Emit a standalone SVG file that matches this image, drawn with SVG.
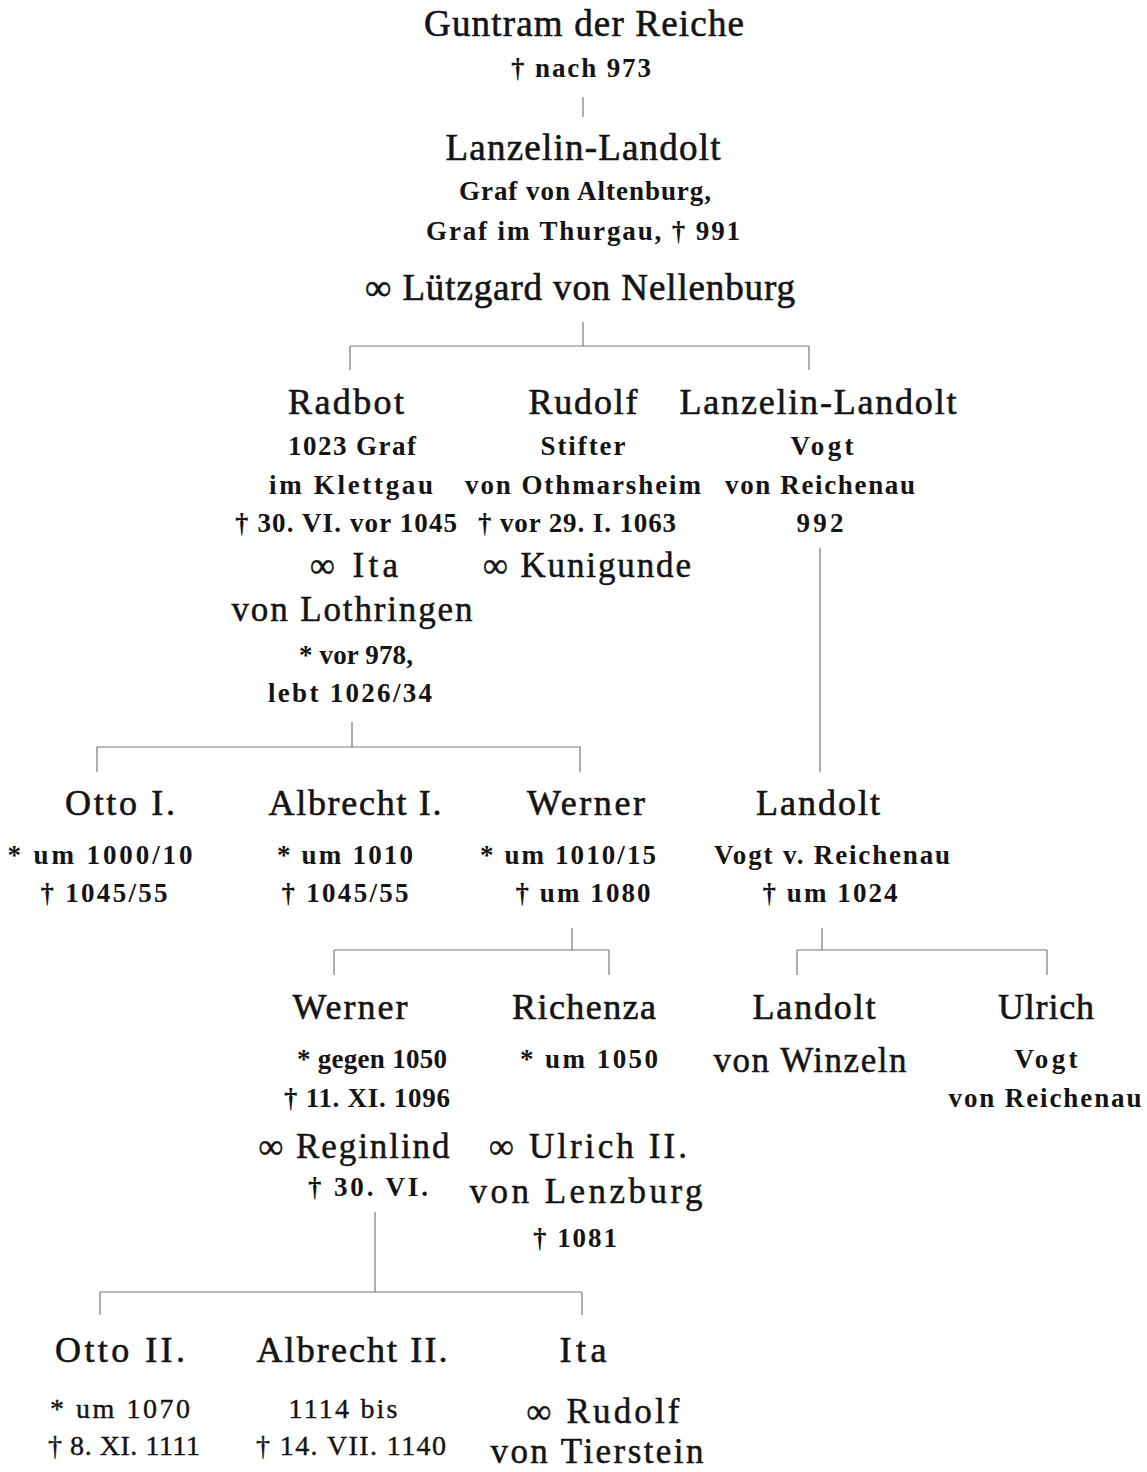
<svg xmlns="http://www.w3.org/2000/svg" width="1147" height="1472" viewBox="0 0 1147 1472">
<style>
text{font-family:"Liberation Serif","Times New Roman",serif;fill:#141414;text-anchor:middle}
.t{font-size:37px;stroke:#141414;stroke-width:0.6}
.n{font-size:36px;stroke:#141414;stroke-width:0.6}
.m{font-size:35px;stroke:#141414;stroke-width:0.5}
.s{font-size:27px;font-weight:bold}
.s5{font-size:28px;stroke:#141414;stroke-width:0.4}
.c line{stroke:#777;stroke-width:1.2}
</style>
<rect width="1147" height="1472" fill="#fff"/>
<g class="c" id="connectors">
<line x1="583" y1="97" x2="583" y2="117"/>
<line x1="583" y1="322" x2="583" y2="346"/>
<line x1="350" y1="346" x2="809" y2="346"/>
<line x1="350" y1="346" x2="350" y2="370"/>
<line x1="809" y1="346" x2="809" y2="370"/>
<line x1="352" y1="722" x2="352" y2="747"/>
<line x1="97" y1="747" x2="581" y2="747"/>
<line x1="97" y1="747" x2="97" y2="772"/>
<line x1="580" y1="747" x2="580" y2="772"/>
<line x1="820" y1="548" x2="820" y2="772"/>
<line x1="572" y1="928" x2="572" y2="950"/>
<line x1="334" y1="950" x2="609" y2="950"/>
<line x1="334" y1="950" x2="334" y2="975"/>
<line x1="609" y1="950" x2="609" y2="975"/>
<line x1="822" y1="928" x2="822" y2="950"/>
<line x1="797" y1="950" x2="1047" y2="950"/>
<line x1="797" y1="950" x2="797" y2="975"/>
<line x1="1047" y1="950" x2="1047" y2="975"/>
<line x1="375" y1="1212" x2="375" y2="1292"/>
<line x1="100" y1="1292" x2="582" y2="1292"/>
<line x1="100" y1="1292" x2="100" y2="1315"/>
<line x1="582" y1="1292" x2="582" y2="1315"/>
</g>
<g id="guntram">
<text class="t" x="584" y="36" textLength="320" lengthAdjust="spacing">Guntram der Reiche</text>
<text class="s" x="581" y="77" textLength="140" lengthAdjust="spacing">† nach 973</text>
</g>
<g id="lanzelin1">
<text class="t" x="583" y="160" textLength="275" lengthAdjust="spacing">Lanzelin-Landolt</text>
<text class="s" x="585" y="200" textLength="252" lengthAdjust="spacing">Graf von Altenburg,</text>
<text class="s" x="583" y="240" textLength="314" lengthAdjust="spacing">Graf im Thurgau, † 991</text>
<text class="t" x="580" y="300" textLength="430" lengthAdjust="spacing">∞ Lützgard von Nellenburg</text>
</g>
<g id="radbot">
<text class="n" x="346" y="414" textLength="116" lengthAdjust="spacing">Radbot</text>
<text class="s" x="352" y="455" textLength="128" lengthAdjust="spacing">1023 Graf</text>
<text class="s" x="351" y="494" textLength="164" lengthAdjust="spacing">im Klettgau</text>
<text class="s" x="346" y="532" textLength="222" lengthAdjust="spacing">† 30. VI. vor 1045</text>
<text class="m" x="354" y="577" textLength="88" lengthAdjust="spacing">∞ Ita</text>
<text class="m" x="352" y="621" textLength="241" lengthAdjust="spacing">von Lothringen</text>
<text class="s" x="356" y="664" textLength="114" lengthAdjust="spacing">* vor 978,</text>
<text class="s" x="350" y="702" textLength="164" lengthAdjust="spacing">lebt 1026/34</text>
</g>
<g id="rudolf">
<text class="n" x="583" y="414" textLength="109" lengthAdjust="spacing">Rudolf</text>
<text class="s" x="583" y="455" textLength="85" lengthAdjust="spacing">Stifter</text>
<text class="s" x="583" y="494" textLength="236" lengthAdjust="spacing">von Othmarsheim</text>
<text class="s" x="577" y="532" textLength="198" lengthAdjust="spacing">† vor 29. I. 1063</text>
<text class="m" x="587" y="577" textLength="208" lengthAdjust="spacing">∞ Kunigunde</text>
</g>
<g id="lanzelin2">
<text class="n" x="818" y="414" textLength="277" lengthAdjust="spacing">Lanzelin-Landolt</text>
<text class="s" x="822" y="455" textLength="63" lengthAdjust="spacing">Vogt</text>
<text class="s" x="820" y="494" textLength="190" lengthAdjust="spacing">von Reichenau</text>
<text class="s" x="820" y="532" textLength="47" lengthAdjust="spacing">992</text>
</g>
<g id="otto1">
<text class="n" x="120" y="815" textLength="110" lengthAdjust="spacing">Otto I.</text>
<text class="s" x="100" y="864" textLength="185" lengthAdjust="spacing">* um 1000/10</text>
<text class="s" x="104" y="902" textLength="127" lengthAdjust="spacing">† 1045/55</text>
</g>
<g id="albrecht1">
<text class="n" x="355" y="815" textLength="173" lengthAdjust="spacing">Albrecht I.</text>
<text class="s" x="345" y="864" textLength="136" lengthAdjust="spacing">* um 1010</text>
<text class="s" x="345" y="902" textLength="127" lengthAdjust="spacing">† 1045/55</text>
</g>
<g id="werner1">
<text class="n" x="586" y="815" textLength="118" lengthAdjust="spacing">Werner</text>
<text class="s" x="568" y="864" textLength="176" lengthAdjust="spacing">* um 1010/15</text>
<text class="s" x="583" y="902" textLength="135" lengthAdjust="spacing">† um 1080</text>
</g>
<g id="landolt1">
<text class="n" x="818" y="815" textLength="124" lengthAdjust="spacing">Landolt</text>
<text class="s" x="832" y="864" textLength="236" lengthAdjust="spacing">Vogt v. Reichenau</text>
<text class="s" x="830" y="902" textLength="135" lengthAdjust="spacing">† um 1024</text>
</g>
<g id="werner2">
<text class="n" x="350" y="1019" textLength="115" lengthAdjust="spacing">Werner</text>
<text class="s" x="372" y="1068" textLength="150" lengthAdjust="spacing">* gegen 1050</text>
<text class="s" x="367" y="1107" textLength="166" lengthAdjust="spacing">† 11. XI. 1096</text>
<text class="m" x="354" y="1158" textLength="191" lengthAdjust="spacing">∞ Reginlind</text>
<text class="s" x="368" y="1196" textLength="120" lengthAdjust="spacing">† 30. VI.</text>
</g>
<g id="richenza">
<text class="n" x="584" y="1019" textLength="144" lengthAdjust="spacing">Richenza</text>
<text class="s" x="589" y="1068" textLength="138" lengthAdjust="spacing">* um 1050</text>
<text class="m" x="588" y="1158" textLength="198" lengthAdjust="spacing">∞ Ulrich II.</text>
<text class="m" x="586" y="1203" textLength="233" lengthAdjust="spacing">von  Lenzburg</text>
<text class="s" x="575" y="1247" textLength="84" lengthAdjust="spacing">† 1081</text>
</g>
<g id="landolt2">
<text class="n" x="814" y="1019" textLength="123" lengthAdjust="spacing">Landolt</text>
<text class="m" x="810" y="1072" textLength="193" lengthAdjust="spacing">von Winzeln</text>
</g>
<g id="ulrich">
<text class="n" x="1046" y="1019" textLength="96" lengthAdjust="spacing">Ulrich</text>
<text class="s" x="1046" y="1068" textLength="63" lengthAdjust="spacing">Vogt</text>
<text class="s" x="1045" y="1107" textLength="193" lengthAdjust="spacing">von Reichenau</text>
</g>
<g id="otto2">
<text class="n" x="120" y="1362" textLength="130" lengthAdjust="spacing">Otto II.</text>
<text class="s5" x="120" y="1418" textLength="140" lengthAdjust="spacing">* um 1070</text>
<text class="s5" x="124" y="1455" textLength="152" lengthAdjust="spacing">† 8. XI. 1111</text>
</g>
<g id="albrecht2">
<text class="n" x="352" y="1362" textLength="191" lengthAdjust="spacing">Albrecht II.</text>
<text class="s5" x="343" y="1418" textLength="109" lengthAdjust="spacing">1114 bis</text>
<text class="s5" x="351" y="1455" textLength="190" lengthAdjust="spacing">† 14. VII. 1140</text>
</g>
<g id="ita2">
<text class="n" x="583" y="1362" textLength="47" lengthAdjust="spacing">Ita</text>
<text class="m" x="603" y="1423" textLength="153" lengthAdjust="spacing">∞ Rudolf</text>
<text class="m" x="597" y="1463" font-size="34" textLength="213" lengthAdjust="spacing">von Tierstein</text>
</g>
</svg>
